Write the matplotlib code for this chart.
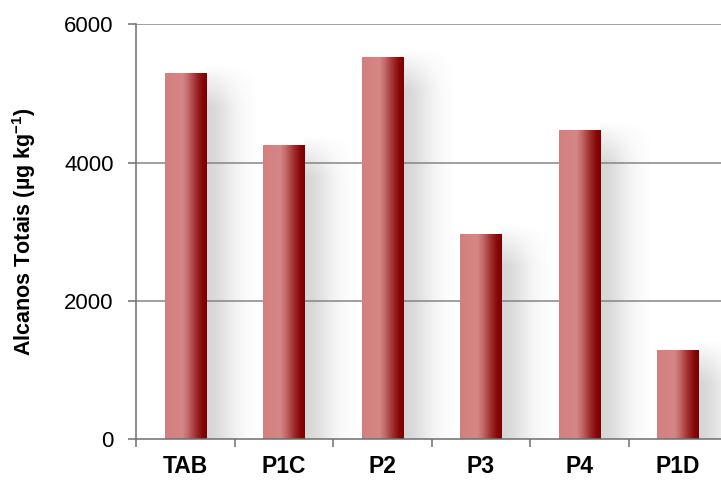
import numpy as np
import matplotlib.pyplot as plt
from matplotlib.colors import LinearSegmentedColormap

plt.rcParams['font.family'] = ['Liberation Sans', 'DejaVu Sans']
plt.rcParams['mathtext.fontset'] = 'custom'
plt.rcParams['mathtext.bf'] = 'Liberation Sans:bold'
plt.rcParams['mathtext.rm'] = 'Liberation Sans:bold'

amostras = ['TAB', 'P1C', 'P2', 'P3', 'P4', 'P1D']
alcanos = [5280, 4250, 5510, 2960, 4460, 1280]

largura = 0.42
sombra = 0.50

# gradiente horizontal das barras (rosa claro -> vermelho escuro)
cmap = LinearSegmentedColormap.from_list('barra', [
    (0.0, '#d37f7f'), (0.42, '#d58686'), (0.55, '#c36868'),
    (0.75, '#9e2a2a'), (0.9, '#850606'), (1.0, '#7d0000')])
grad = np.linspace(0, 1, 256).reshape(1, -1)

fig = plt.figure(figsize=(7.21, 4.8), dpi=100)
ax = fig.add_axes([136/721, 40.7/480, 591/721, 415/480])
ax.set_xlim(-0.5, 5.5)
ax.set_ylim(0, 6000)

for v in [2000, 4000, 6000]:
    ax.axhline(v, color='#868686', lw=1.1, zorder=0)

for i, v in enumerate(alcanos):
    x0 = i - largura / 2
    x1 = i + largura / 2
    # sombra difusa a direita da barra
    nx, ny = 80, 80
    fx = np.linspace(0, 1, nx)
    topo = v - 150
    fy = np.linspace(0, topo + 300, ny)
    ax_ = np.exp(-(fx / 0.55) ** 2)
    ay_ = np.clip((topo + 300 - fy) / 600.0, 0, 1)
    alpha = np.outer(ay_, ax_) * 0.32
    img = np.zeros((ny, nx, 4))
    img[..., :3] = 0.5
    img[..., 3] = alpha
    ax.imshow(img, extent=(x1, x1 + sombra, 0, topo + 300), origin='lower',
              aspect='auto', zorder=1, interpolation='bilinear')
    ax.imshow(grad, extent=(x0, x1, 0, v), cmap=cmap, aspect='auto',
              zorder=2, interpolation='bilinear')

ax.set_xlim(-0.5, 5.5)
ax.set_ylim(0, 6000)

for s in ['top', 'right']:
    ax.spines[s].set_visible(False)
for s in ['left', 'bottom']:
    ax.spines[s].set_color('#6e6e6e')
    ax.spines[s].set_linewidth(1.1)
ax.spines['bottom'].set_zorder(3)

ax.set_yticks([0, 2000, 4000, 6000])
ax.tick_params(axis='y', direction='out', length=6, width=1.1,
               color='#6e6e6e', labelsize=16, pad=10)
ax.set_xticks(range(len(amostras)))
ax.set_xticklabels(amostras, fontsize=16.5, fontweight='bold')
ax.tick_params(axis='x', which='major', length=0, pad=11)
ax.set_xticks(np.arange(-0.5, 5.6, 1), minor=True)
ax.tick_params(axis='x', which='minor', direction='out', length=6,
               width=1.1, color='#6e6e6e')

ax.set_ylabel('Alcanos Totais (µg kg$^{-1}$)', fontsize=15.5,
              fontweight='bold', labelpad=19)

fig.savefig('out.png', dpi=100)
